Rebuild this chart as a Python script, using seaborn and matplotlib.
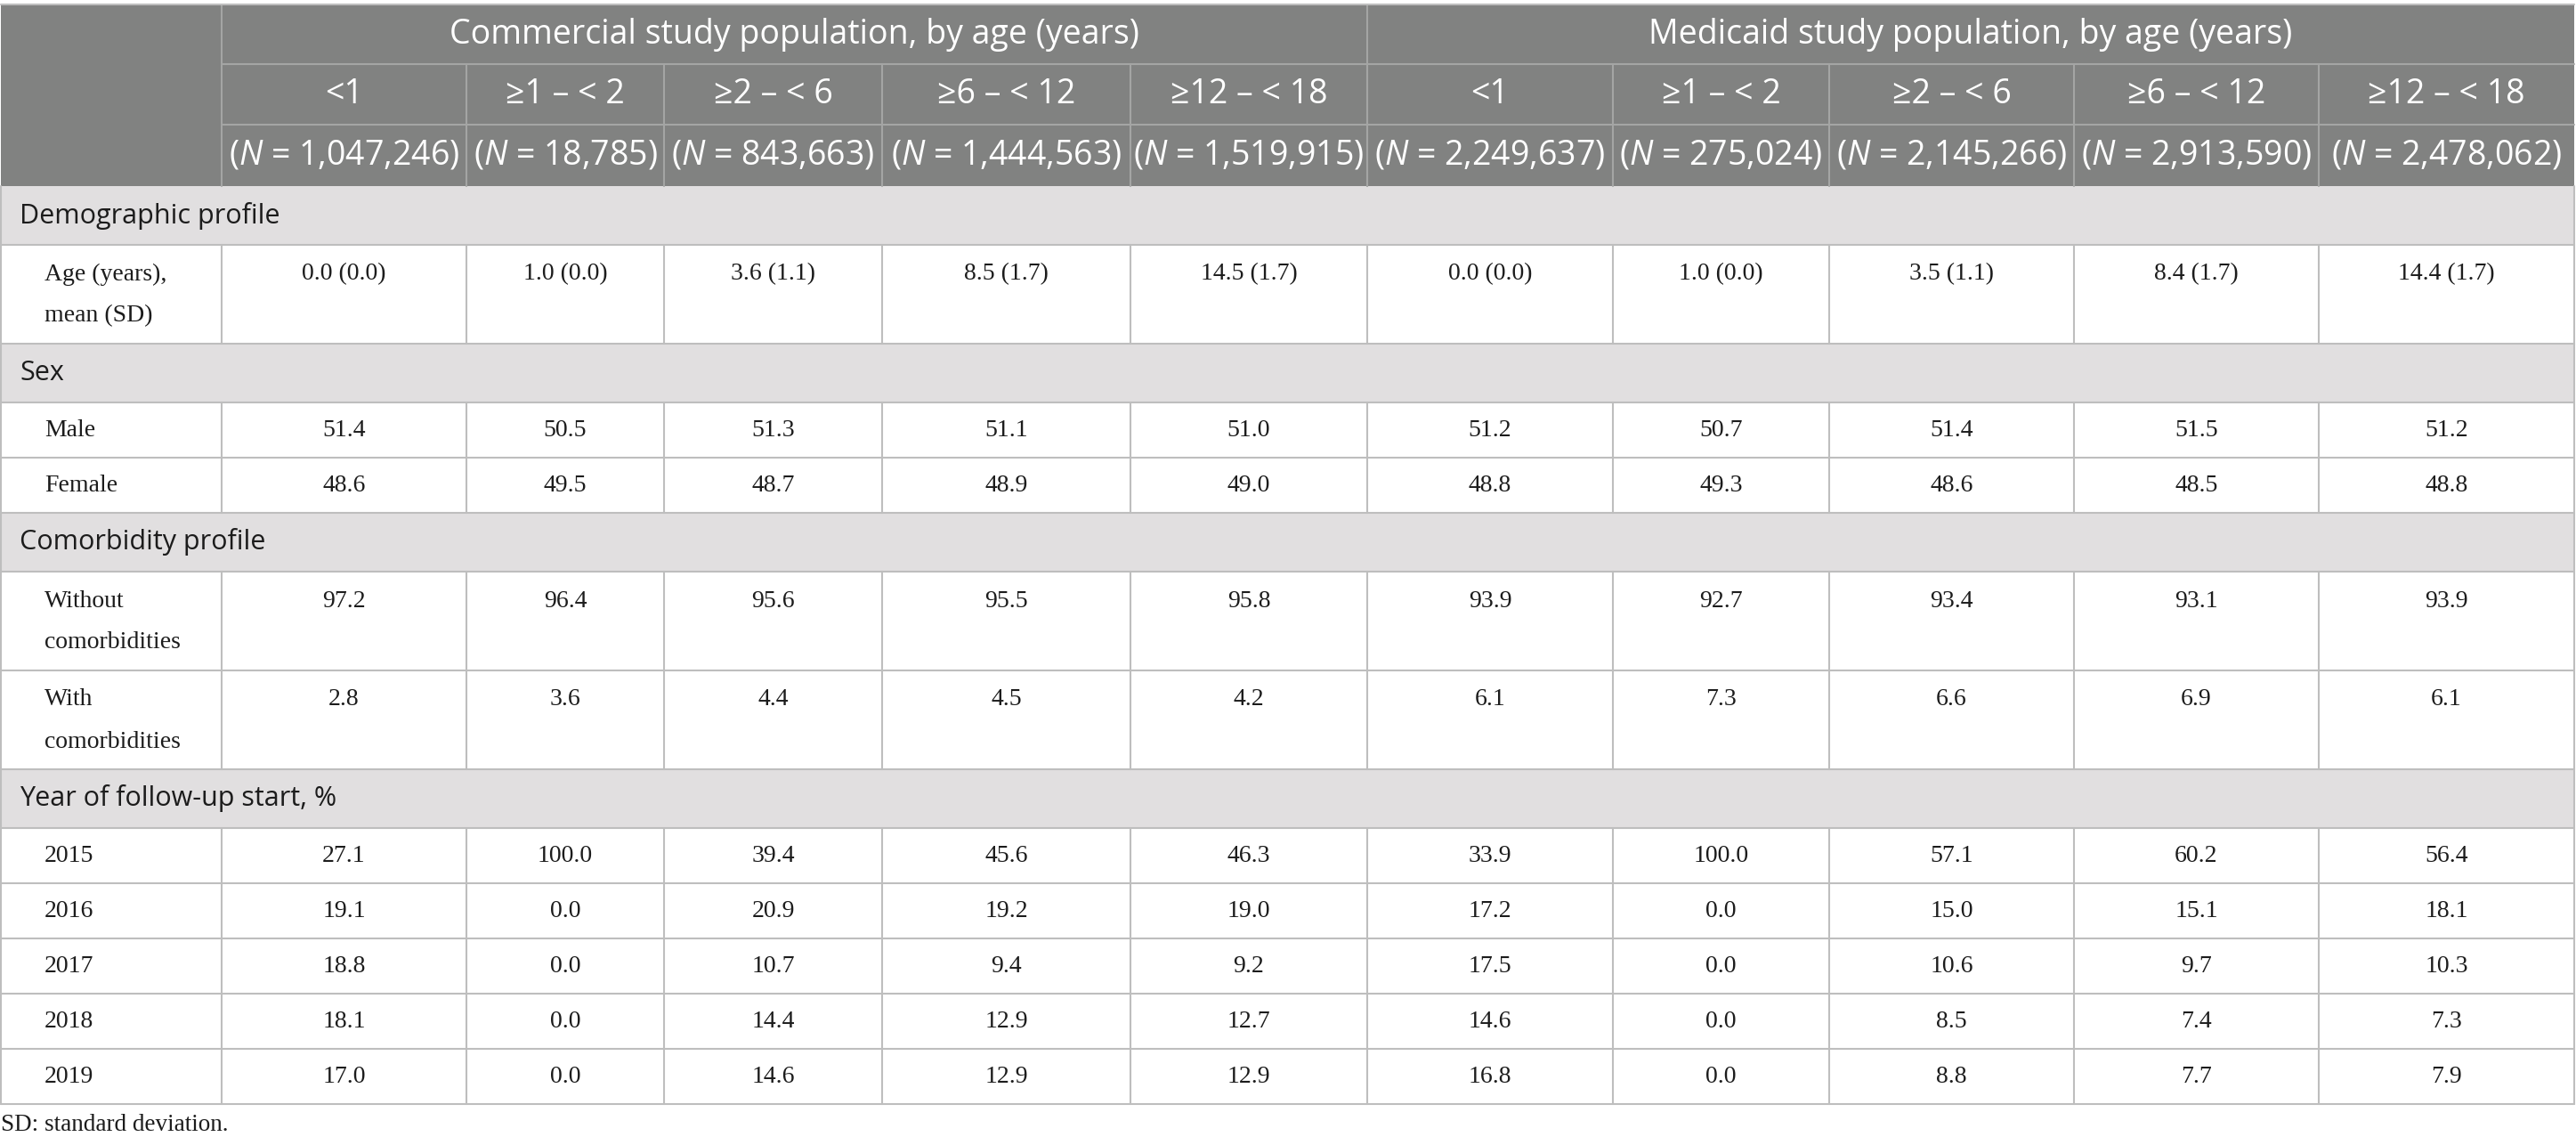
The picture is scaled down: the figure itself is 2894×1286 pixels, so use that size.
import numpy as np
import seaborn as sns
import matplotlib.pyplot as plt
from matplotlib.patches import Rectangle

sns.set_theme(style="white")
plt.rcParams['font.family'] = ['Open Sans', 'DejaVu Sans']
plt.rcParams['mathtext.fontset'] = 'custom'
plt.rcParams['mathtext.rm'] = 'Open Sans'
plt.rcParams['mathtext.it'] = 'Open Sans:italic'

# ---- table content ----
groups = ["Commercial study population, by age (years)",
          "Medicaid study population, by age (years)"]
age_bands = ["<1", "\u22651 \u2013 < 2", "\u22652 \u2013 < 6", "\u22656 \u2013 < 12", "\u226512 \u2013 < 18"]
commercial_n = ["1,047,246", "18,785", "843,663", "1,444,563", "1,519,915"]
medicaid_n = ["2,249,637", "275,024", "2,145,266", "2,913,590", "2,478,062"]

age_comm = ["0.0 (0.0)", "1.0 (0.0)", "3.6 (1.1)", "8.5 (1.7)", "14.5 (1.7)"]
age_medi = ["0.0 (0.0)", "1.0 (0.0)", "3.5 (1.1)", "8.4 (1.7)", "14.4 (1.7)"]
male_comm = [51.4, 50.5, 51.3, 51.1, 51.0]
male_medi = [51.2, 50.7, 51.4, 51.5, 51.2]
female_comm = [48.6, 49.5, 48.7, 48.9, 49.0]
female_medi = [48.8, 49.3, 48.6, 48.5, 48.8]
without_comm = [97.2, 96.4, 95.6, 95.5, 95.8]
without_medi = [93.9, 92.7, 93.4, 93.1, 93.9]
with_comm = [2.8, 3.6, 4.4, 4.5, 4.2]
with_medi = [6.1, 7.3, 6.6, 6.9, 6.1]
years = ["2015", "2016", "2017", "2018", "2019"]
year_comm = [[27.1, 100.0, 39.4, 45.6, 46.3],
             [19.1, 0.0, 20.9, 19.2, 19.0],
             [18.8, 0.0, 10.7, 9.4, 9.2],
             [18.1, 0.0, 14.4, 12.9, 12.7],
             [17.0, 0.0, 14.6, 12.9, 12.9]]
year_medi = [[33.9, 100.0, 57.1, 60.2, 56.4],
             [17.2, 0.0, 15.0, 15.1, 18.1],
             [17.5, 0.0, 10.6, 9.7, 10.3],
             [14.6, 0.0, 8.5, 7.4, 7.3],
             [16.8, 0.0, 8.8, 7.7, 7.9]]
footnote = "SD: standard deviation."

def fmt(v):
    return [f"{x:.1f}" if not isinstance(x, str) else x for x in v]

# rows: (kind, label, values)
rows = [("section", "Demographic profile", None),
        ("double", "Age (years),\nmean (SD)", fmt(age_comm) + fmt(age_medi)),
        ("section", "Sex", None),
        ("single", "Male", fmt(male_comm) + fmt(male_medi)),
        ("single", "Female", fmt(female_comm) + fmt(female_medi)),
        ("section", "Comorbidity profile", None),
        ("double", "Without\ncomorbidities", fmt(without_comm) + fmt(without_medi)),
        ("double", "With\ncomorbidities", fmt(with_comm) + fmt(with_medi)),
        ("section", "Year of follow-up start, %", None)]
for y, c, m in zip(years, year_comm, year_medi):
    rows.append(("single", y, fmt(c) + fmt(m)))

# ---- layout (pixels) ----
W, H = 2894, 1286
col_edges = [1, 249, 524, 746, 991, 1270, 1536, 1812, 2055, 2330, 2605, 2892]
head_edges = [5, 72, 140, 209]
row_h = {"section": 66, "single": 62, "double": 111}

header_bg = "#818281"
header_line = "#a4a5a4"
section_bg = "#e1dfe0"
grid = "#bebebe"
txt = "#1c1c1c"
serif = ["Liberation Serif", "DejaVu Serif"]
head_fs = 27
body_fs = 20

fig = plt.figure(figsize=(W / 100, H / 100), dpi=100)
ax = fig.add_axes([0, 0, 1, 1])
ax.set_xlim(0, W)
ax.set_ylim(H, 0)
ax.axis("off")

x0, x1 = col_edges[0], col_edges[-1]
lw = 1.5

# header block
ax.add_patch(Rectangle((x0, head_edges[0]), x1 - x0, head_edges[-1] - head_edges[0],
                       color=header_bg, lw=0))
for y in head_edges[1:3]:
    ax.plot([col_edges[1], x1], [y, y], color=header_line, lw=lw)
ax.plot([col_edges[1], col_edges[1]], [head_edges[0], head_edges[3]], color=header_line, lw=lw)
ax.plot([col_edges[6], col_edges[6]], [head_edges[0], head_edges[3]], color=header_line, lw=lw)
for xe in col_edges[2:-1]:
    ax.plot([xe, xe], [head_edges[1], head_edges[3]], color=header_line, lw=lw)

hy1 = (head_edges[0] + head_edges[1]) / 2
hy2 = (head_edges[1] + head_edges[2]) / 2
hy3 = (head_edges[2] + head_edges[3]) / 2
ax.text((col_edges[1] + col_edges[6]) / 2, hy1, groups[0], color="white",
        fontsize=head_fs, ha="center", va="center")
ax.text((col_edges[6] + col_edges[11]) / 2, hy1, groups[1], color="white",
        fontsize=head_fs, ha="center", va="center")
all_n = commercial_n + medicaid_n
for i in range(10):
    cx = (col_edges[i + 1] + col_edges[i + 2]) / 2
    ax.text(cx, hy2, age_bands[i % 5], color="white", fontsize=head_fs,
            ha="center", va="center")
    ax.text(cx, hy3, "($\\mathit{N}$ = " + all_n[i] + ")", color="white",
            fontsize=head_fs, ha="center", va="center")

# body
top = head_edges[-1]
for kind, label, vals in rows:
    h = row_h[kind]
    bot = top + h
    mid = (top + bot) / 2
    if kind == "section":
        ax.add_patch(Rectangle((x0, top), x1 - x0, h, color=section_bg, lw=0))
        ax.text(x0 + 21, mid, label, color=txt, fontsize=22, ha="left", va="center")
    else:
        for xe in col_edges[1:-1]:
            ax.plot([xe, xe], [top, bot], color=grid, lw=lw)
        if kind == "double":
            l1, l2 = label.split("\n")
            ax.text(x0 + 49, top + 33, l1, family=serif, color=txt, fontsize=body_fs,
                    ha="left", va="center")
            ax.text(x0 + 49, top + 80, l2, family=serif, color=txt, fontsize=body_fs,
                    ha="left", va="center")
            vy = top + 33
        else:
            ax.text(x0 + 49, mid, label, family=serif, color=txt, fontsize=body_fs,
                    ha="left", va="center")
            vy = mid
        for i, v in enumerate(vals):
            cx = (col_edges[i + 1] + col_edges[i + 2]) / 2
            ax.text(cx, vy, v, family=serif, color=txt, fontsize=body_fs,
                    ha="center", va="center")
    ax.plot([x0, x1], [bot, bot], color=grid, lw=lw)
    top = bot

# outer body borders
ax.plot([x0, x0], [head_edges[-1], top], color=grid, lw=lw)
ax.plot([x1, x1], [head_edges[-1], top], color=grid, lw=lw)
ax.plot([x0, x1], [head_edges[0], head_edges[0]], color=grid, lw=lw)

ax.text(x0, top + 24, footnote, family=serif, color=txt, fontsize=19.5,
        ha="left", va="center")

fig.savefig("out.png", dpi=100)
